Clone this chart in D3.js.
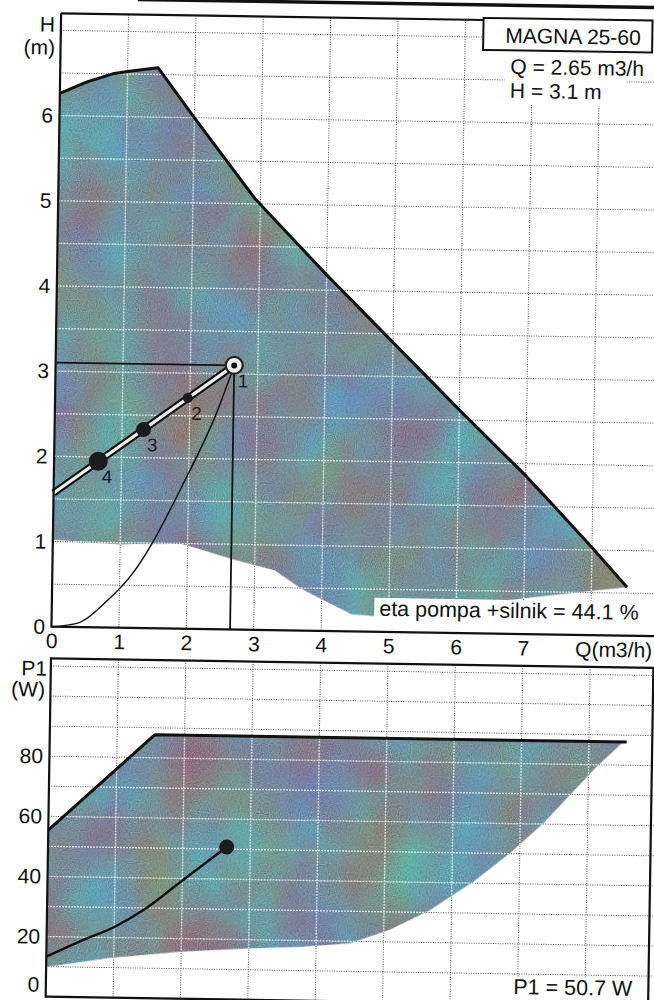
<!DOCTYPE html>
<html>
<head>
<meta charset="utf-8">
<script src="https://cdn.jsdelivr.net/npm/d3@7"></script>
<style>
  html, body { margin: 0; padding: 0; background: #fff; }
  svg { display: block; font-family: "Liberation Sans", Arial, Helvetica, sans-serif; }
</style>
</head>
<body>
<script>
// ---- tick labels ----
const qTicks = [0, 1, 2, 3, 4, 5, 6, 7];
const hTicks = [0, 1, 2, 3, 4, 5, 6];
const pTicks = [0, 20, 40, 60, 80];

// ---- duty point ----
const pumpName = "MAGNA 25-60";
const dutyQ = 2.65;   // m3/h
const dutyH = 3.1;    // m
const dutyP = 50.7;   // W
const etaTotal = 44.1; // %

// ---- head: maximum curve (upper edge of the operating range) ----
const maxHeadQ = [0, 0.4, 0.78, 1.0, 1.45, 2.0, 2.92, 4.0, 5.0, 6.0, 7.0, 7.34, 8.0, 8.53];
const maxHeadH = [6.26, 6.40, 6.50, 6.53, 6.58, 6.00, 5.06, 4.18, 3.40, 2.62, 1.86, 1.58, 1.03, 0.57];

// ---- head: minimum curve (lower edge of the operating range) ----
const minHeadQ = [0, 1.0, 1.9, 2.7, 3.3, 3.7, 4.45, 4.9, 6.0, 7.0, 8.0, 8.53];
const minHeadH = [1.02, 0.98, 1.00, 0.82, 0.70, 0.49, 0.20, 0.18, 0.30, 0.42, 0.52, 0.57];

// ---- system curve through the duty point ----
const sysQ = [0, 0.4, 0.8, 1.2, 1.44, 1.92, 2.4, 2.65];
const sysH = [0, 0.05, 0.30, 0.65, 0.95, 1.70, 2.54, 3.1];

// ---- proportional-pressure control line ----
const ctrlQ = [0, 2.65];
const ctrlH = [1.57, 3.1];

// ---- numbered points on the control line ----
const markLabel = ["1", "2", "3", "4"];
const markQ = [2.65, 1.97, 1.32, 0.656];
const markH = [3.1, 2.71, 2.33, 1.95];

// ---- power: maximum and minimum P1 curves ----
const maxPowQ = [0, 1.56, 8.56];
const maxPowP = [55.4, 87.7, 87.7];
const minPowQ = [0, 0.95, 1.98, 3.02, 3.76, 4.5, 5.09, 5.68, 6.32, 6.85, 7.34, 7.73, 8.12, 8.51];
const minPowP = [9.9, 13.2, 15.6, 17.1, 17.9, 19.3, 24.0, 30.8, 40.5, 50.1, 60.2, 69.8, 79.3, 87.7];

// ---- power along the system curve ----
const p1Q = [0, 0.54, 1.01, 1.43, 2.01, 2.65];
const p1P = [13.3, 19.0, 23.6, 29.3, 39.5, 50.7];

// ================= drawing =================
const svg = d3.select("body").append("svg").attr("width", 654).attr("height", 1000);
const defs = svg.append("defs");

// mottled print-like fill for the operating ranges (teal-blue to grey-mauve)
const flt = defs.append("filter").attr("id", "mottle")
  .attr("x", 0).attr("y", 0).attr("width", 1).attr("height", 1)
  .attr("color-interpolation-filters", "sRGB");
flt.append("feTurbulence").attr("type", "fractalNoise").attr("baseFrequency", "0.014 0.011")
  .attr("numOctaves", 3).attr("seed", 11).attr("result", "cloud");
flt.append("feColorMatrix").attr("in", "cloud").attr("type", "matrix")
  .attr("values",
    "-0.25 -0.05 0 0 0.61  " +
    " 0.25  0.20 0 0 0.335 " +
    " 0.35 -0.10 0 0 0.475 " +
    " 0 0 0 0 1")
  .attr("result", "tint");
flt.append("feTurbulence").attr("type", "fractalNoise").attr("baseFrequency", 0.9)
  .attr("numOctaves", 1).attr("seed", 3).attr("result", "fine");
flt.append("feColorMatrix").attr("in", "fine").attr("type", "matrix")
  .attr("values", "1 0 0 0 0  1 0 0 0 0  1 0 0 0 0  0 0 0 0 1").attr("result", "grain");
flt.append("feComposite").attr("in", "tint").attr("in2", "grain").attr("operator", "arithmetic")
  .attr("k1", 0).attr("k2", 1).attr("k3", 0.35).attr("k4", -0.175).attr("result", "tex");
flt.append("feComposite").attr("in", "tex").attr("in2", "SourceGraphic").attr("operator", "in");

// whole sheet sits slightly askew
const g = svg.append("g").attr("transform", "rotate(0.9 327 500)");

// scales
const x = d3.scaleLinear().domain([0, 9]).range([53.5, 660.1]);
const yH = d3.scaleLinear().domain([0, 7.2]).range([631, 17.6]);
const yP = d3.scaleLinear().domain([0, 112.5]).range([1001, 662.8]);

const xL = x(0), xR = x(9);
const zip = (a, b) => a.map((v, i) => [v, b[i]]);

// header rule of the page
g.append("line").attr("x1", 130).attr("x2", 670).attr("y1", 2.5).attr("y2", 2.5)
  .attr("stroke", "#111").attr("stroke-width", 3.5);

function grid(sel, yScale, yVals, yLo, yHi, stroke, width, dash, opacity) {
  const gg = sel.append("g").attr("stroke", stroke).attr("stroke-width", width)
    .attr("stroke-dasharray", dash).attr("opacity", opacity);
  gg.selectAll(".gh").data(yVals).join("line")
    .attr("x1", xL).attr("x2", xR).attr("y1", d => yScale(d)).attr("y2", d => yScale(d));
  gg.selectAll(".gv").data(d3.range(1, 9)).join("line")
    .attr("x1", d => x(d)).attr("x2", d => x(d)).attr("y1", yLo).attr("y2", yHi);
  return gg;
}

function styleAxis(a, size) {
  a.select(".domain").remove();
  a.selectAll("text").attr("font-size", size).attr("fill", "#111")
    .attr("font-family", "'Liberation Sans', Arial, sans-serif");
}

// ================= head panel =================
const topP = g.append("g");
const hGridVals = d3.range(0.5, 7.01, 0.5);
grid(topP, yH, hGridVals, yH(7.2), yH(0), "#444", 1, "1 1.4", 0.9);

const headPoly = zip(maxHeadQ, maxHeadH).concat(zip(minHeadQ, minHeadH).reverse());
const polyLine = (yS) => d3.line().x(d => x(d[0])).y(d => yS(d[1]));
const headPath = polyLine(yH)(headPoly) + "Z";

defs.append("clipPath").attr("id", "clipHead").append("path").attr("d", headPath);
topP.append("path").attr("d", headPath).attr("fill", "#7f8f95").attr("filter", "url(#mottle)");

grid(topP.append("g").attr("clip-path", "url(#clipHead)"), yH, hGridVals, yH(7.2), yH(0),
  "#ffffff", 1.3, "2 1", 0.75);

// maximum curve
topP.append("path").attr("d", polyLine(yH)(zip(maxHeadQ, maxHeadH)))
  .attr("fill", "none").attr("stroke", "#111").attr("stroke-width", 3).attr("stroke-linejoin", "round");

// reference lines to the duty point
topP.append("line").attr("x1", x(0)).attr("x2", x(dutyQ)).attr("y1", yH(dutyH)).attr("y2", yH(dutyH))
  .attr("stroke", "#111").attr("stroke-width", 1.8);
topP.append("line").attr("x1", x(dutyQ)).attr("x2", x(dutyQ)).attr("y1", yH(dutyH)).attr("y2", yH(0))
  .attr("stroke", "#111").attr("stroke-width", 1.8);

// system curve
topP.append("path")
  .attr("d", d3.line().x(d => x(d[0])).y(d => yH(d[1])).curve(d3.curveMonotoneX)(zip(sysQ, sysH)))
  .attr("fill", "none").attr("stroke", "#111").attr("stroke-width", 1.5);

// control line (double stroke)
const ctrlD = polyLine(yH)(zip(ctrlQ, ctrlH));
topP.append("path").attr("d", ctrlD).attr("stroke", "#111").attr("stroke-width", 7.5).attr("fill", "none");
topP.append("path").attr("d", ctrlD).attr("stroke", "#eeeeee").attr("stroke-width", 3.2).attr("fill", "none");

// numbered points
const markR = [0, 5, 7.5, 9.5];
markQ.forEach((q, i) => {
  if (i === 0) return;
  topP.append("circle").attr("cx", x(q)).attr("cy", yH(markH[i])).attr("r", markR[i]).attr("fill", "#1b1b1f");
});
topP.append("circle").attr("cx", x(markQ[0])).attr("cy", yH(markH[0])).attr("r", 8.5)
  .attr("fill", "#eeeeee").attr("stroke", "#222").attr("stroke-width", 2.2);
topP.append("circle").attr("cx", x(markQ[0])).attr("cy", yH(markH[0])).attr("r", 3).attr("fill", "#111");

topP.selectAll(".mlab").data(markLabel).join("text")
  .attr("x", (d, i) => x(markQ[i]) + 9).attr("y", (d, i) => yH(markH[i]) + 15)
  .attr("dy", "0.36em").attr("text-anchor", "middle").attr("font-size", 18.5).attr("fill", "#1c1c2a")
  .text(d => d);

// efficiency note
topP.append("rect").attr("x", 376).attr("y", 597).attr("width", 280).attr("height", 33).attr("fill", "#fff");
topP.append("text").attr("x", 381).attr("y", 615).attr("font-size", 21.5).attr("fill", "#111")
  .text(`eta pompa +silnik = ${etaTotal} %`);

// pump name box and duty values
topP.append("rect").attr("x", 498).attr("y", 49).attr("width", 122).attr("height", 53).attr("fill", "#fff");
topP.append("rect").attr("x", 476).attr("y", 15.5).attr("width", 169).attr("height", 32)
  .attr("fill", "#fff").attr("stroke", "#111").attr("stroke-width", 2);
topP.append("text").attr("x", 498).attr("y", 40).attr("font-size", 21).attr("fill", "#111").text(pumpName);
topP.append("text").attr("x", 503.5).attr("y", 71).attr("font-size", 21).attr("fill", "#111")
  .text(`Q = ${dutyQ} m3/h`);
topP.append("text").attr("x", 503.5).attr("y", 95).attr("font-size", 21).attr("fill", "#111")
  .text(`H = ${dutyH} m`);

// frame
topP.append("path").attr("d", `M${xL},${yH(7.2)}V${yH(0)}H${xR}`)
  .attr("fill", "none").attr("stroke", "#111").attr("stroke-width", 2.2);
topP.append("line").attr("x1", xL).attr("x2", 476).attr("y1", yH(7.2)).attr("y2", yH(7.2))
  .attr("stroke", "#111").attr("stroke-width", 2.2);

// axes
const axH = topP.append("g").attr("transform", `translate(${xL},0)`)
  .call(d3.axisLeft(yH).tickValues(hTicks).tickSize(0).tickPadding(6.5).tickFormat(d3.format("d")));
styleAxis(axH, 21);
const axQ = topP.append("g").attr("transform", `translate(0,${yH(0)})`)
  .call(d3.axisBottom(x).tickValues(qTicks).tickSize(0).tickPadding(6.5).tickFormat(d3.format("d")));
styleAxis(axQ, 21);

topP.append("text").attr("x", 47.7).attr("y", 36).attr("text-anchor", "end").attr("font-size", 21)
  .attr("fill", "#111").text("H");
topP.append("text").attr("x", 48).attr("y", 59).attr("text-anchor", "end").attr("font-size", 21)
  .attr("fill", "#111").text("(m)");
topP.append("text").attr("x", 654.5).attr("y", 652.5).attr("text-anchor", "end").attr("font-size", 21)
  .attr("fill", "#111").text("Q(m3/h)");

// ================= power panel =================
const botP = g.append("g");
const pGridVals = d3.range(10, 111, 10);
grid(botP, yP, pGridVals, yP(112.5), yP(0), "#444", 1, "1 1.4", 0.9);

const powPoly = zip(maxPowQ, maxPowP).filter(d => d[0] <= 8.5)
  .concat(zip(minPowQ, minPowP).reverse());
const powPath = polyLine(yP)(powPoly) + "Z";
defs.append("clipPath").attr("id", "clipPow").append("path").attr("d", powPath);
botP.append("path").attr("d", powPath).attr("fill", "#7f8f95").attr("filter", "url(#mottle)");
grid(botP.append("g").attr("clip-path", "url(#clipPow)"), yP, pGridVals, yP(112.5), yP(0),
  "#ffffff", 1.3, "2 1", 0.75);

// maximum power line
botP.append("path").attr("d", polyLine(yP)(zip(maxPowQ, maxPowP)))
  .attr("fill", "none").attr("stroke", "#111").attr("stroke-width", 3).attr("stroke-linejoin", "round");

// power along the system curve
botP.append("path")
  .attr("d", d3.line().x(d => x(d[0])).y(d => yP(d[1])).curve(d3.curveMonotoneX)(zip(p1Q, p1P)))
  .attr("fill", "none").attr("stroke", "#111").attr("stroke-width", 2.4);
botP.append("circle").attr("cx", x(dutyQ)).attr("cy", yP(dutyP)).attr("r", 7.5).attr("fill", "#1b1b1f");

// power note
botP.append("rect").attr("x", 515).attr("y", 974).attr("width", 140).attr("height", 26).attr("fill", "#fff");
botP.append("text").attr("x", 521).attr("y", 991).attr("font-size", 21.5).attr("fill", "#111")
  .text(`P1 = ${dutyP} W`);

// frame
botP.append("rect").attr("x", xL).attr("y", yP(112.5)).attr("width", 656 - xL)
  .attr("height", yP(0) - yP(112.5)).attr("fill", "none").attr("stroke", "#111").attr("stroke-width", 2.2);

const axP = botP.append("g").attr("transform", `translate(${xL},0)`)
  .call(d3.axisLeft(yP).tickValues(pTicks).tickSize(0).tickPadding(6.5).tickFormat(d3.format("d")));
styleAxis(axP, 21);
// the zero label is lifted off the bottom edge
axP.selectAll(".tick").filter(d => d === 0).attr("transform", `translate(0,${yP(0) - 11.5})`);

botP.append("text").attr("x", 49.8).attr("y", 680).attr("text-anchor", "end").attr("font-size", 21)
  .attr("fill", "#111").text("P1");
botP.append("text").attr("x", 48).attr("y", 701).attr("text-anchor", "end").attr("font-size", 21)
  .attr("fill", "#111").text("(W)");
</script>
</body>
</html>
